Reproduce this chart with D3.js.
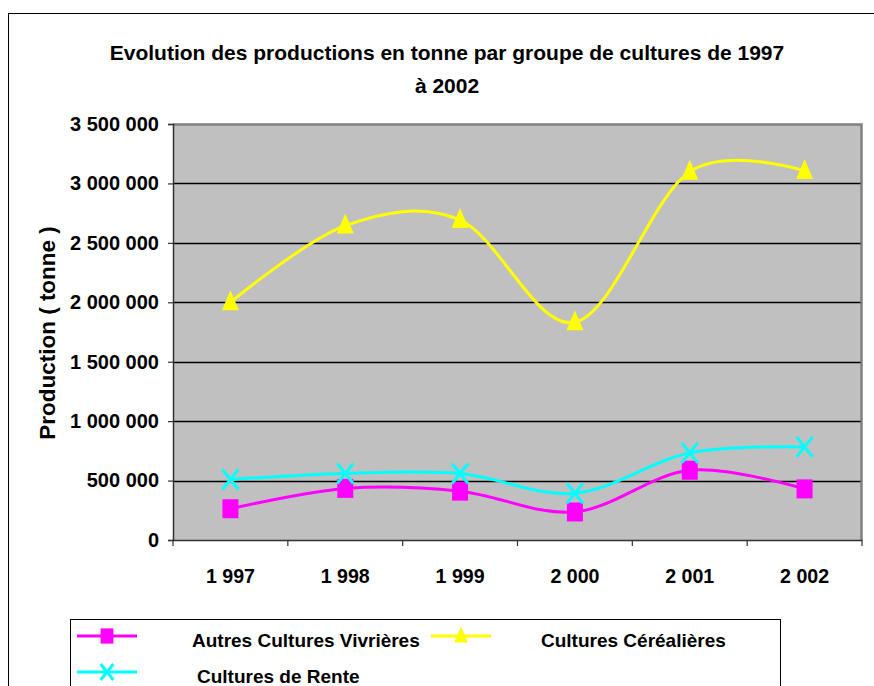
<!DOCTYPE html>
<html>
<head>
<meta charset="utf-8">
<script src="https://cdn.jsdelivr.net/npm/d3@7"></script>
<style>
  html, body { margin: 0; padding: 0; background: #fff; }
  svg { display: block; }
  text { font-family: "Liberation Sans", Arial, sans-serif; font-weight: bold; fill: #000; }
</style>
</head>
<body>
<svg id="chart" width="874" height="686"></svg>
<script>
// Production data (tonnes) by crop group, 1997–2002
const years = ["1 997", "1 998", "1 999", "2 000", "2 001", "2 002"];
const autresVivrieres = [263000, 434000, 411000, 236000, 587000, 430000];
const cerealieres = [2000000, 2645000, 2692000, 1832000, 3098000, 3105000];
const rente = [509000, 560000, 560000, 393000, 733000, 783000];
const yTicks = [0, 500000, 1000000, 1500000, 2000000, 2500000, 3000000, 3500000];
const seriesNames = ["Autres Cultures Vivrières", "Cultures Céréalières", "Cultures de Rente"];
const seriesColors = ["#ff00ff", "#ffff00", "#00ffff"];

const svg = d3.select("#chart");

// outer chart frame
svg.append("rect").attr("x", 8.5).attr("y", 13.5).attr("width", 880).attr("height", 700)
  .attr("fill", "#fff").attr("stroke", "#000").attr("stroke-width", 1);

const plot = { left: 173, right: 862, top: 124, bottom: 540 };

const x = d3.scaleBand().domain(years).range([plot.left, plot.right]).padding(0);
const y = d3.scaleLinear().domain([0, 3500000]).range([plot.bottom, plot.top]);

// plot background
svg.append("rect").attr("x", plot.left).attr("y", plot.top)
  .attr("width", plot.right - plot.left).attr("height", plot.bottom - plot.top)
  .attr("fill", "#c0c0c0");
// grey frame on top and right of plot area
svg.append("path")
  .attr("d", `M${plot.left},${plot.top + 0.5}H${plot.right - 0.5}V${plot.bottom}`)
  .attr("fill", "none").attr("stroke", "#808080").attr("stroke-width", 2.5);

// horizontal gridlines
svg.append("g").selectAll("line").data(yTicks.filter(d => d > 0 && d < 3500000)).join("line")
  .attr("x1", plot.left).attr("x2", plot.right - 1.5)
  .attr("y1", d => Math.round(y(d)) + 0.5).attr("y2", d => Math.round(y(d)) + 0.5)
  .attr("stroke", "#000").attr("stroke-width", 1.5);

// y axis
const fmt = v => d3.format(",")(v).replace(/,/g, " ");
const yAxis = svg.append("g").attr("transform", `translate(${plot.left},0)`)
  .call(d3.axisLeft(y).tickValues(yTicks).tickSize(5).tickPadding(9).tickFormat(fmt));
yAxis.select(".domain").attr("stroke", "#333").attr("stroke-width", 1.5);
yAxis.selectAll(".tick line").attr("stroke", "#333").attr("stroke-width", 1.2);
yAxis.selectAll(".tick text").style("font-size", "20px").attr("font-family", null);

// x axis
const xAxis = svg.append("g").attr("transform", `translate(0,${plot.bottom})`)
  .call(d3.axisBottom(x).tickSize(0).tickPadding(29));
xAxis.select(".domain").attr("stroke", "#333").attr("stroke-width", 1.5);
xAxis.selectAll(".tick text").style("font-size", "19.6px").attr("font-family", null);
// category separators
svg.append("g").selectAll("line").data(d3.range(years.length + 1)).join("line")
  .attr("x1", i => plot.left + i * x.bandwidth()).attr("x2", i => plot.left + i * x.bandwidth())
  .attr("y1", plot.bottom).attr("y2", plot.bottom + 6)
  .attr("stroke", "#333").attr("stroke-width", 1.2);

// title
const title = svg.append("text").attr("text-anchor", "middle").style("font-size", "21px");
title.append("tspan").attr("x", 447).attr("y", 60)
  .text("Evolution des productions en tonne par groupe de cultures de 1997");
title.append("tspan").attr("x", 447).attr("y", 93).text("à 2002");

// y axis title
svg.append("text").attr("transform", "translate(55,333) rotate(-90)")
  .attr("text-anchor", "middle").style("font-size", "22.5px")
  .text("Production ( tonne )");

// series
const cx = i => x(years[i]) + x.bandwidth() / 2;
const line = d3.line().x((d, i) => cx(i)).y(d => y(d)).curve(d3.curveCardinal.tension(0));
const allSeries = [autresVivrieres, cerealieres, rente];

// marker shapes; k scales them down for the legend
const markerSquare = (g, px, py, c, k = 1) => g.append("rect")
  .attr("x", px - 8 * k).attr("y", py - 9.5 * k)
  .attr("width", 16 * k).attr("height", 19 * k).attr("fill", c);
const markerTriangle = (g, px, py, c, k = 1) => g.append("path")
  .attr("d", `M${px},${py - 12 * k}L${px + 8.5 * k},${py + 8 * k}L${px - 8.5 * k},${py + 8 * k}Z`)
  .attr("fill", c);
const markerCross = (g, px, py, c, k = 1) => g.append("path")
  .attr("d", `M${px - 8 * k},${py - 10 * k}L${px + 8 * k},${py + 10 * k}` +
             `M${px + 8 * k},${py - 10 * k}L${px - 8 * k},${py + 10 * k}`)
  .attr("stroke", c).attr("stroke-width", 3).attr("fill", "none");
const markers = [markerSquare, markerTriangle, markerCross];

allSeries.forEach((vals, s) => {
  const g = svg.append("g");
  g.append("path").attr("d", line(vals)).attr("fill", "none")
    .attr("stroke", seriesColors[s]).attr("stroke-width", 3);
  vals.forEach((v, i) => markers[s](g, cx(i), y(v), seriesColors[s]));
});

// legend
const legend = svg.append("g");
legend.append("rect").attr("x", 70.5).attr("y", 619.5).attr("width", 710).attr("height", 100)
  .attr("fill", "#fff").attr("stroke", "#000").attr("stroke-width", 1);
const legendItems = [
  { s: 0, lx: 77, ly: 636, tx: 192 },
  { s: 1, lx: 431, ly: 636, tx: 541 },
  { s: 2, lx: 77, ly: 672, tx: 197 }
];
legendItems.forEach(it => {
  const g = legend.append("g");
  g.append("line").attr("x1", it.lx).attr("x2", it.lx + 60).attr("y1", it.ly).attr("y2", it.ly)
    .attr("stroke", seriesColors[it.s]).attr("stroke-width", 3);
  markers[it.s](g, it.lx + 30, it.ly, seriesColors[it.s], 0.8);
  g.append("text").attr("x", it.tx).attr("y", it.ly + 11).style("font-size", "19px")
    .text(seriesNames[it.s]);
});
</script>
</body>
</html>
